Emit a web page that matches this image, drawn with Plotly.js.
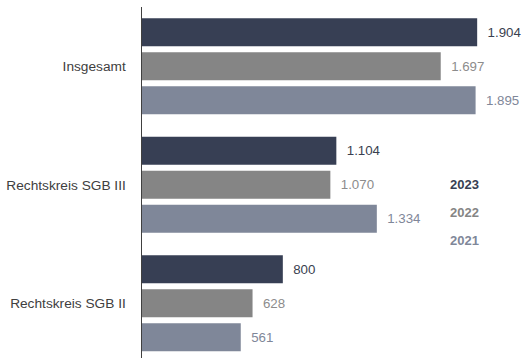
<!DOCTYPE html>
<html>
<head>
<meta charset="utf-8">
<script src="https://cdn.plot.ly/plotly-3.0.1.min.js"></script>
<style>html,body{margin:0;padding:0;background:#fff;}#chart{width:524px;height:358px;}</style>
</head>
<body>
<div id="chart"></div>
<script>
const categories = ["Insgesamt", "Rechtskreis SGB III", "Rechtskreis SGB II"];
const years = ["2023", "2022", "2021"];
const values2023 = [1904, 1104, 800];
const values2022 = [1697, 1070, 628];
const values2021 = [1895, 1334, 561];
const seriesValues = [values2023, values2022, values2021];
const barColors = ["#373f54", "#858585", "#7f8799"];
const labelColors = ["#3a3f50", "#8c8c8c", "#7f8799"];

const traces = years.map((yr, i) => ({
  type: "bar",
  orientation: "h",
  name: yr,
  y: categories,
  x: seriesValues[i],
  marker: {color: barColors[i], line: {width: 0}},
  texttemplate: "\u00a0\u00a0%{x:,}",
  textposition: "outside",
  cliponaxis: false,
  textfont: {family: "Liberation Sans, Arial, sans-serif", size: 13.3, color: labelColors[i]},
  hoverinfo: "skip"
}));

const legendY = [184, 212, 240];
const annotations = years.map((yr, i) => ({
  xref: "paper", yref: "paper",
  x: (464 - 142) / (524 - 142),
  y: 1 - (legendY[i] - 7) / 351,
  xanchor: "center", yanchor: "middle",
  text: "<b>" + yr + "</b>",
  showarrow: false,
  font: {family: "Liberation Sans, Arial, sans-serif", size: 13, color: barColors[i]}
}));

const layout = {
  width: 524, height: 358,
  margin: {l: 142, r: 0, t: 7, b: 0},
  paper_bgcolor: "#ffffff", plot_bgcolor: "#ffffff",
  separators: ",.",
  showlegend: false,
  barmode: "group",
  bargap: 0.139,
  bargroupgap: 0.176,
  font: {family: "Liberation Sans, Arial, sans-serif", size: 13, color: "#404040"},
  xaxis: {range: [0, 2170], visible: false, showgrid: false, zeroline: false, fixedrange: true},
  yaxis: {
    type: "category",
    range: [2.462, -0.5],
    showline: true, linecolor: "#404040", linewidth: 1.5,
    showgrid: false, zeroline: false, ticks: "",
    ticklabelstandoff: 12,
    tickfont: {family: "Liberation Sans, Arial, sans-serif", size: 13.7, color: "#404040"},
    fixedrange: true
  },
  annotations: annotations
};

Plotly.newPlot("chart", traces, layout, {displayModeBar: false, staticPlot: true});
</script>
</body>
</html>
